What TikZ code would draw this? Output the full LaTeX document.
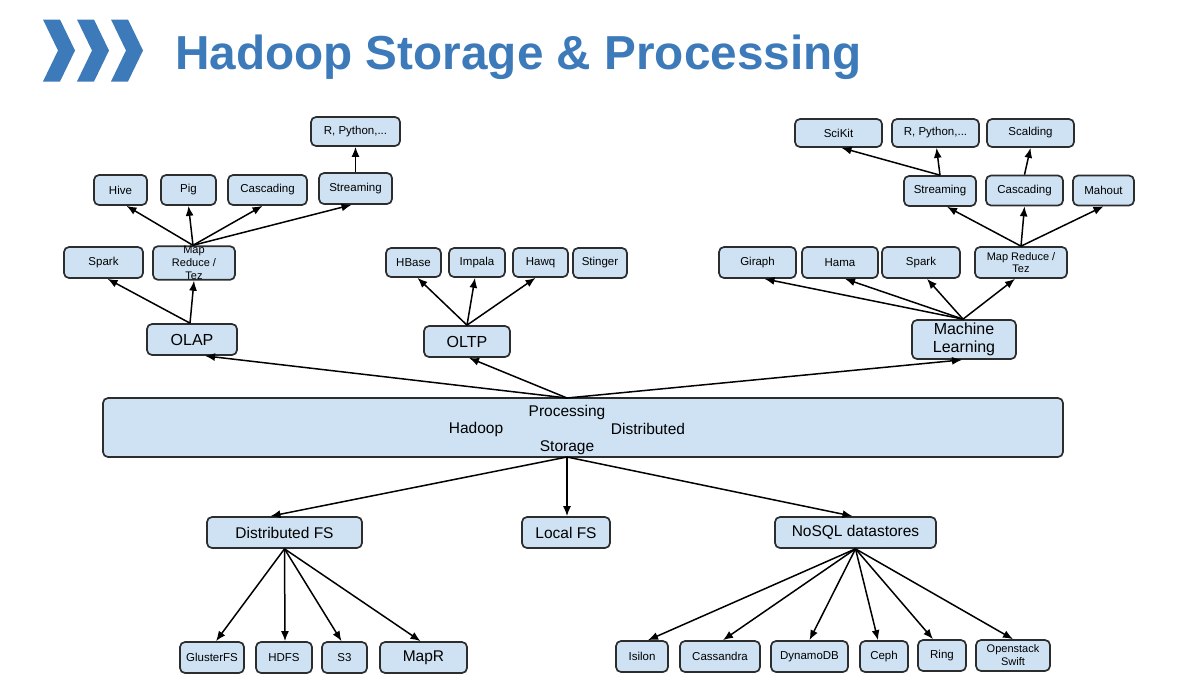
\documentclass[tikz,border=0pt]{standalone}
\usepackage{fontspec}
\setmainfont{Liberation Sans}
\usetikzlibrary{arrows.meta,calc}
\definecolor{tblue}{RGB}{60,122,186}
\definecolor{boxfill}{RGB}{207,226,243}
\definecolor{boxdraw}{RGB}{45,45,45}
\begin{document}
\begin{tikzpicture}[x=1pt,y=-1pt,
  box/.style={draw=boxdraw, fill=boxfill, line width=1.7pt, rounded corners=5pt,
    inner sep=0pt, align=center, font=\fontsize{11.5}{13}\selectfont},
  big/.style={box, font=\fontsize{16}{18}\selectfont},
  mid/.style={box, font=\fontsize{15.5}{17}\selectfont},
  arr/.style={-{Latex[length=10pt,width=8pt]}, line width=1.5pt},
  chev/.style={fill=tblue, draw=none},
  ctext/.style={inner sep=0pt, font=\fontsize{15.5}{17}\selectfont}]
\useasboundingbox (0,0) rectangle (1201,686);
\fill[white] (0,0) rectangle (1201,686);
% title
\foreach \o in {43,77,111}{
  \fill[chev] (\o,19.5) -- ++(17,0) -- ++(15,31) -- ++(-15,31) -- ++(-17,0) -- ++(15,-31) -- cycle;
}
\node[anchor=base west, inner sep=0pt, text=tblue, font=\fontsize{47.7}{50}\selectfont\bfseries] (title) at (175,69) {Hadoop Storage \& Processing};

% big box
\node[box, minimum width=960pt, minimum height=59pt] (core) at (583,427.5) {};
\node[ctext] (tproc) at (567,412) {Processing};
\node[ctext] (thad) at (476,429) {Hadoop};
\node[ctext] (tdist) at (648,429) {Distributed};
\node[ctext] (tstor) at (567,448) {Storage};
\coordinate (ctop) at (567,398);
\coordinate (cbot) at (567,457);

% OLAP subtree
\node[big, minimum width=90pt, minimum height=31pt] (olap) at (192,339.5) {OLAP};
\node[box, minimum width=79pt, minimum height=31pt] (spark1) at (103.5,262.5) {Spark};
\node[box, minimum width=82pt, minimum height=31pt, font=\fontsize{11}{13}\selectfont] (mr1) at (194,263) {Map\\Reduce /\\Tez};
\node[box, minimum width=53pt, minimum height=30pt] (hive) at (120.5,190) {Hive};
\node[box, minimum width=55pt, minimum height=30pt] (pig) at (188.5,190) {Pig};
\node[box, minimum width=79pt, minimum height=30pt] (casc1) at (267.5,190) {Cascading};
\node[box, minimum width=73pt, minimum height=31pt] (stream1) at (355.5,188.5) {Streaming};
\node[box, minimum width=89pt, minimum height=29pt] (rpy1) at (355.5,131.5) {R, Python,...};

% OLTP subtree
\node[big, minimum width=86pt, minimum height=31pt] (oltp) at (467,341.5) {OLTP};
\node[box, minimum width=55pt, minimum height=29pt] (hbase) at (413.5,262.5) {HBase};
\node[box, minimum width=56pt, minimum height=29pt] (impala) at (477,262.5) {Impala};
\node[box, minimum width=55pt, minimum height=29pt] (hawq) at (540.5,262.5) {Hawq};
\node[box, minimum width=54pt, minimum height=30pt] (stinger) at (600,263) {Stinger};

% ML subtree
\node[big, minimum width=104pt, minimum height=39pt, font=\fontsize{16}{18}\selectfont] (ml) at (964,339.5) {Machine\\Learning};
\node[box, minimum width=77pt, minimum height=31pt] (giraph) at (757.5,262.5) {Giraph};
\node[box, minimum width=76pt, minimum height=31pt] (hama) at (840,262.5) {Hama};
\node[box, minimum width=78pt, minimum height=31pt] (spark2) at (921,262.5) {Spark};
\node[box, minimum width=92pt, minimum height=31pt, font=\fontsize{11}{12.5}\selectfont] (mr2) at (1021,262.5) {Map Reduce /\\Tez};
\node[box, minimum width=72pt, minimum height=30pt] (stream2) at (940,191) {Streaming};
\node[box, minimum width=77pt, minimum height=30pt] (casc2) at (1024.5,190.5) {Cascading};
\node[box, minimum width=61pt, minimum height=30pt] (mahout) at (1103.5,190.5) {Mahout};
\node[box, minimum width=87pt, minimum height=28pt] (scikit) at (838.5,133) {SciKit};
\node[box, minimum width=87pt, minimum height=28pt] (rpy2) at (935.5,133) {R, Python,...};
\node[box, minimum width=87pt, minimum height=28pt] (scalding) at (1030.5,133) {Scalding};

% storage
\node[mid, minimum width=155pt, minimum height=31pt] (dfs) at (284.5,532.5) {Distributed FS};
\node[mid, minimum width=88pt, minimum height=31pt] (lfs) at (566,532.5) {Local FS};
\node[mid, minimum width=161pt, minimum height=31pt] (nosql) at (855.5,532.5) {NoSQL datastores};
\node[box, minimum width=64pt, minimum height=31pt] (gluster) at (212,657.5) {GlusterFS};
\node[box, minimum width=56pt, minimum height=31pt] (hdfs) at (284,657.5) {HDFS};
\node[box, minimum width=45pt, minimum height=31pt] (s3) at (344.5,657.5) {S3};
\node[mid, minimum width=87pt, minimum height=31pt] (mapr) at (423.5,657.5) {MapR};
\node[box, minimum width=52pt, minimum height=31pt] (isilon) at (642,656.5) {Isilon};
\node[box, minimum width=80pt, minimum height=31pt] (cass) at (720,656.5) {Cassandra};
\node[box, minimum width=77pt, minimum height=31pt] (dynamo) at (809.5,656.5) {DynamoDB};
\node[box, minimum width=48pt, minimum height=31pt] (ceph) at (884,656.5) {Ceph};
\node[box, minimum width=48pt, minimum height=31pt] (ring) at (942,655.5) {Ring};
\node[box, minimum width=74pt, minimum height=31pt, font=\fontsize{11}{13}\selectfont] (swift) at (1013,655.5) {Openstack\\Swift};

% arrows from core
\draw[arr] (ctop) -- ([xshift=13pt]olap.south);
\draw[arr] (ctop) -- ([xshift=2pt]oltp.south);
\draw[arr] (ctop) -- ([xshift=-2pt]ml.south);
\draw[arr] (cbot) -- ([xshift=-14pt]dfs.north);
\draw[arr] (cbot) -- (cbot |- lfs.north);
\draw[arr] (cbot) -- ([xshift=-3pt]nosql.north);

% OLAP
\draw[arr] ([xshift=-2pt]olap.north) -- ([xshift=4pt]spark1.south);
\draw[arr] ([xshift=-2pt]olap.north) -- (mr1.south);
\draw[arr] ([xshift=-1pt]mr1.north) -- ([xshift=6pt]hive.south);
\draw[arr] ([xshift=-1pt]mr1.north) -- (pig.south);
\draw[arr] ([xshift=-1pt]mr1.north) -- ([xshift=-5pt]casc1.south);
\draw[arr] ([xshift=-1pt]mr1.north) -- ([xshift=-4pt]stream1.south);
\draw[arr] (stream1.north) -- (rpy1.south);

% OLTP
\draw[arr] (oltp.north) -- ([xshift=4pt]hbase.south);
\draw[arr] (oltp.north) -- ([xshift=-2pt]impala.south);
\draw[arr] (oltp.north) -- ([xshift=-5pt]hawq.south);

% ML
\draw[arr] ([xshift=-1pt]ml.north) -- ([xshift=7pt]giraph.south);
\draw[arr] ([xshift=-1pt]ml.north) -- ([xshift=5pt]hama.south);
\draw[arr] ([xshift=-1pt]ml.north) -- ([xshift=6pt]spark2.south);
\draw[arr] ([xshift=-1pt]ml.north) -- ([xshift=-6pt]mr2.south);
\draw[arr] (mr2.north) -- ([xshift=7pt]stream2.south);
\draw[arr] (mr2.north) -- (casc2.south);
\draw[arr] (mr2.north) -- (mahout.south);
\draw[arr] (stream2.north) -- ([xshift=3pt]scikit.south);
\draw[arr] (stream2.north) -- ([xshift=1pt]rpy2.south);
\draw[arr] (casc2.north) -- (scalding.south);

% DFS
\draw[arr] (dfs.south) -- ([xshift=4pt]gluster.north);
\draw[arr] (dfs.south) -- ([xshift=1pt]hdfs.north);
\draw[arr] (dfs.south) -- ([xshift=-3pt]s3.north);
\draw[arr] (dfs.south) -- ([xshift=-3pt]mapr.north);

% NoSQL
\draw[arr] (nosql.south) -- ([xshift=6pt]isilon.north);
\draw[arr] (nosql.south) -- ([xshift=3pt]cass.north);
\draw[arr] (nosql.south) -- (dynamo.north);
\draw[arr] (nosql.south) -- ([xshift=-6pt]ceph.north);
\draw[arr] (nosql.south) -- ([xshift=-9pt]ring.north);
\draw[arr] (nosql.south) -- (swift.north);
\end{tikzpicture}
\end{document}
